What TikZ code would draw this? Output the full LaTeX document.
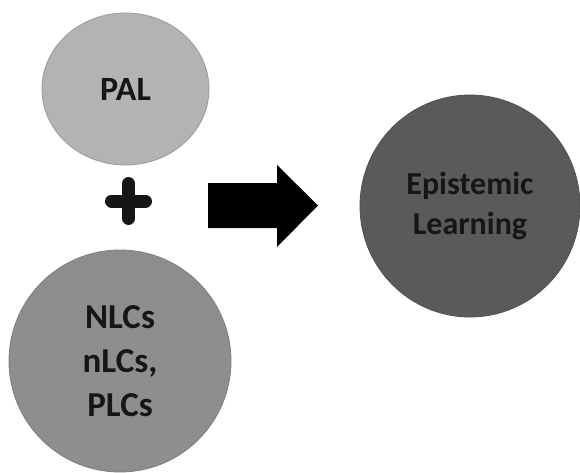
\documentclass[tikz,border=0pt]{standalone}
\usepackage{fontspec}
\setmainfont{Carlito}
\usetikzlibrary{shapes.geometric}
\definecolor{palfill}{HTML}{B3B3B3}
\definecolor{palline}{HTML}{9A9A9A}
\definecolor{nlcfill}{HTML}{8E8E8E}
\definecolor{nlcline}{HTML}{7E7E7E}
\definecolor{epifill}{HTML}{5A5A5A}
\definecolor{epiline}{HTML}{505050}
\definecolor{txt}{HTML}{161616}
\tikzset{
  blob/.style={ellipse, inner sep=0pt, line width=0.8pt, text=txt, align=center, font=\bfseries},
}
\begin{document}
\begin{tikzpicture}[x=1pt,y=-1pt]
\useasboundingbox (0,0) rectangle (580,473);
\node[blob, draw=palline, fill=palfill, minimum width=167pt, minimum height=152pt,
      font=\fontsize{34}{40}\bfseries\selectfont] (pal) at (125.5,89) {PAL};
\node[blob, draw=nlcline, fill=nlcfill, minimum width=222pt, minimum height=222pt,
      font=\fontsize{35}{44}\bfseries\selectfont] (nlc) at (120,361) {NLCs\\nLCs,\\PLCs};
\node[blob, draw=epiline, fill=epifill, minimum width=220pt, minimum height=222pt,
      font=\fontsize{32}{40}\bfseries\selectfont] (epi) at (470,206) {Epistemic\\Learning};
\coordinate (plus) at (128.5,201);
\draw[line width=13pt, line cap=round, txt] ([yshift=-17.5pt]plus) -- ([yshift=17.5pt]plus);
\draw[line width=13pt, line cap=round, txt] ([xshift=-17pt]plus) -- ([xshift=17pt]plus);
\coordinate (arr) at (208,205.5);
\fill[black] (arr) ++(0,-22.5) -- ++(69,0) -- ++(0,-18) -- (318,205.5) -- (277,247) -- ++(0,-19) -- ++(-69,0) -- cycle;
\end{tikzpicture}
\end{document}
